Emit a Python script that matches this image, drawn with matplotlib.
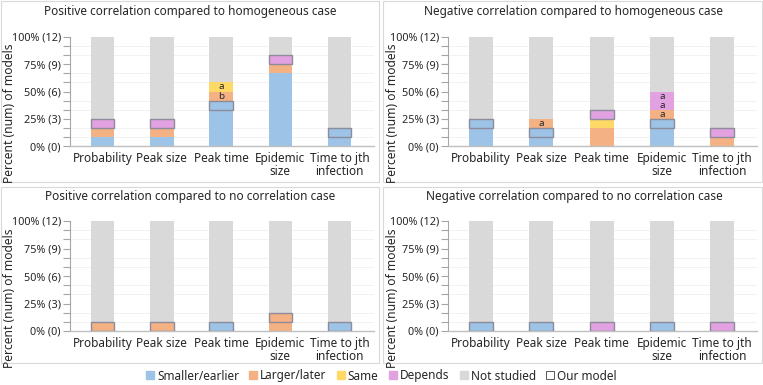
import matplotlib
matplotlib.use("Agg")
import matplotlib.pyplot as plt
from matplotlib.patches import Rectangle
from matplotlib.lines import Line2D
import numpy as np

plt.rcParams['font.family'] = ['Noto Sans', 'DejaVu Sans']

# ---------------- data ----------------
categories = ["Probability", "Peak size", "Peak time", "Epidemic\nsize", "Time to jth\ninfection"]
series_names = ["Smaller/earlier", "Larger/later", "Same", "Depends"]
total_models = 12

titles = ["Positive correlation compared to homogeneous case",
          "Negative correlation compared to homogeneous case",
          "Positive correlation compared to no correlation case",
          "Negative correlation compared to no correlation case"]

# counts per category (number of models)
p1_smaller = [1, 1, 5, 8, 2]
p1_larger  = [1, 1, 1, 1, 0]
p1_same    = [0, 0, 1, 0, 0]
p1_depends = [1, 1, 0, 1, 0]
p1_ours    = ["Depends", "Depends", "Smaller/earlier", "Depends", "Smaller/earlier"]

p2_smaller = [3, 2, 0, 3, 0]
p2_larger  = [0, 1, 2, 1, 1]
p2_same    = [0, 0, 1, 0, 0]
p2_depends = [0, 0, 1, 2, 1]
p2_ours    = ["Smaller/earlier", "Smaller/earlier", "Depends", "Smaller/earlier", "Depends"]

p3_smaller = [0, 0, 1, 0, 1]
p3_larger  = [1, 1, 0, 2, 0]
p3_same    = [0, 0, 0, 0, 0]
p3_depends = [0, 0, 0, 0, 0]
p3_ours    = ["Larger/later", "Larger/later", "Smaller/earlier", "Larger/later", "Smaller/earlier"]

p4_smaller = [1, 1, 0, 1, 0]
p4_larger  = [0, 0, 0, 0, 0]
p4_same    = [0, 0, 0, 0, 0]
p4_depends = [0, 0, 1, 0, 1]
p4_ours    = ["Smaller/earlier", "Smaller/earlier", "Depends", "Smaller/earlier", "Depends"]

# annotations: (category index, series, unit index within series, text)
p1_notes = [(2, "Larger/later", 0, "b"), (2, "Same", 0, "a")]
p2_notes = [(1, "Larger/later", 0, "a"), (3, "Larger/later", 0, "a"),
            (3, "Depends", 0, "a"), (3, "Depends", 1, "a")]
p3_notes = []
p4_notes = []

ytick_labels = ["0% (0)", "25% (3)", "50% (6)", "75% (9)", "100% (12)"]

panels = [
    (p1_smaller, p1_larger, p1_same, p1_depends, p1_ours, p1_notes),
    (p2_smaller, p2_larger, p2_same, p2_depends, p2_ours, p2_notes),
    (p3_smaller, p3_larger, p3_same, p3_depends, p3_ours, p3_notes),
    (p4_smaller, p4_larger, p4_same, p4_depends, p4_ours, p4_notes),
]

# ---------------- style ----------------
colors = {"Smaller/earlier": "#9DC3E6", "Larger/later": "#F4B183",
          "Same": "#FFD966", "Depends": "#E2A1E0", "Not studied": "#D9D9D9"}
ours_edge = "#8C8C9C"
text_color = "#262626"

W, H = 763, 385
fig = plt.figure(figsize=(W / 100, H / 100), dpi=100)

def fx(px):
    return px / W

def fy(py):
    return 1 - py / H

# panel frames (pixels: x0, y0, x1, y1)
frames = [(1, 1, 379, 182), (383, 1, 762, 182), (1, 187, 379, 363), (383, 187, 762, 363)]
for (x0, y0, x1, y1) in frames:
    fig.patches.append(Rectangle((fx(x0), fy(y1)), fx(x1) - fx(x0), fy(y0) - fy(y1),
                                 transform=fig.transFigure, fill=False,
                                 edgecolor="#D9D9D9", linewidth=0.8))

# axes positions in pixels: (left, right, top, bottom)
axpos = [(70, 374, 37, 146), (448, 757, 37, 146), (70, 374, 221, 331), (448, 757, 221, 331)]
title_pos = [(190, 12), (574, 12), (190, 197), (574, 197)]
ylabel_x = [10, 392, 10, 392]

for i, (sm, lg, sa, de, ours, notes) in enumerate(panels):
    l, r, t, b = axpos[i]
    ax = fig.add_axes([fx(l), fy(b), fx(r) - fx(l), fy(t) - fy(b)])
    data = {"Smaller/earlier": sm, "Larger/later": lg, "Same": sa, "Depends": de}
    x = np.arange(len(categories))
    bw = 0.4
    bottom = np.zeros(len(categories))
    starts = {}
    for name in series_names:
        vals = np.array(data[name], dtype=float)
        ax.bar(x, vals / total_models * 100, bw, bottom=bottom / total_models * 100,
               color=colors[name], linewidth=0, zorder=2)
        starts[name] = bottom.copy()
        bottom = bottom + vals
    rest = total_models - bottom
    ax.bar(x, rest / total_models * 100, bw, bottom=bottom / total_models * 100,
           color=colors["Not studied"], linewidth=0, zorder=2)
    # our model outline: top unit of its series
    for j, s in enumerate(ours):
        top_unit = starts[s][j] + data[s][j] - 1
        ax.bar(x[j], 100 / total_models, bw, bottom=top_unit / total_models * 100,
               fill=False, edgecolor=ours_edge, linewidth=1.0, zorder=3)
    for (j, s, u, txt) in notes:
        yc = (starts[s][j] + u + 0.5) / total_models * 100
        ax.text(x[j], yc, txt, ha="center", va="center", fontsize=7,
                color=text_color, zorder=4)

    ax.set_xlim(-0.55, len(categories) - 0.42)
    ax.set_ylim(0, 100)
    ax.set_yticks([0, 25, 50, 75, 100])
    ax.set_yticklabels(ytick_labels, fontsize=7.8, color=text_color)
    ax.set_yticks(np.arange(0, 13) * 100 / total_models, minor=True)
    ax.yaxis.grid(True, which="minor", color="#F0F0F0", linewidth=0.6, zorder=0)
    ax.set_axisbelow(True)
    ax.tick_params(axis="y", which="both", length=5, width=0.8, color="#A6A6A6", pad=1.5)
    ax.set_xticks(x)
    ax.set_xticklabels(categories, fontsize=8.5, color=text_color, linespacing=1.05)
    ax.tick_params(axis="x", length=0, pad=4)
    for sp in ["top", "right"]:
        ax.spines[sp].set_visible(False)
    ax.spines["left"].set_color("#A6A6A6")
    ax.spines["left"].set_linewidth(0.8)
    ax.spines["bottom"].set_color("#BFBFBF")
    ax.spines["bottom"].set_linewidth(1.0)

    tx, ty = title_pos[i]
    fig.text(fx(tx), fy(ty), titles[i], ha="center", va="center", fontsize=8.5, color=text_color)
    fig.text(fx(ylabel_x[i]), fy((t + b) / 2 + 22), "Percent (num) of models", rotation=90,
             ha="center", va="center", fontsize=8.7, color=text_color)

# legend
handles = [Line2D([], [], marker="s", linestyle="none", markersize=5.5,
                  markerfacecolor=colors[n], markeredgecolor=colors[n]) for n in series_names]
handles.append(Line2D([], [], marker="s", linestyle="none", markersize=5.5,
                      markerfacecolor=colors["Not studied"], markeredgecolor=colors["Not studied"]))
handles.append(Line2D([], [], marker="s", linestyle="none", markersize=5.5,
                      markerfacecolor="white", markeredgecolor="#595959", markeredgewidth=0.7))
labels = series_names + ["Not studied", "Our model"]
fig.legend(handles, labels, loc="center", bbox_to_anchor=(0.5, fy(376)), ncol=6,
           frameon=False, fontsize=8.5, handlelength=0.6, handletextpad=0.3,
           columnspacing=0.9, labelcolor=text_color, borderaxespad=0, borderpad=0)

fig.savefig("out.png", dpi=100)
